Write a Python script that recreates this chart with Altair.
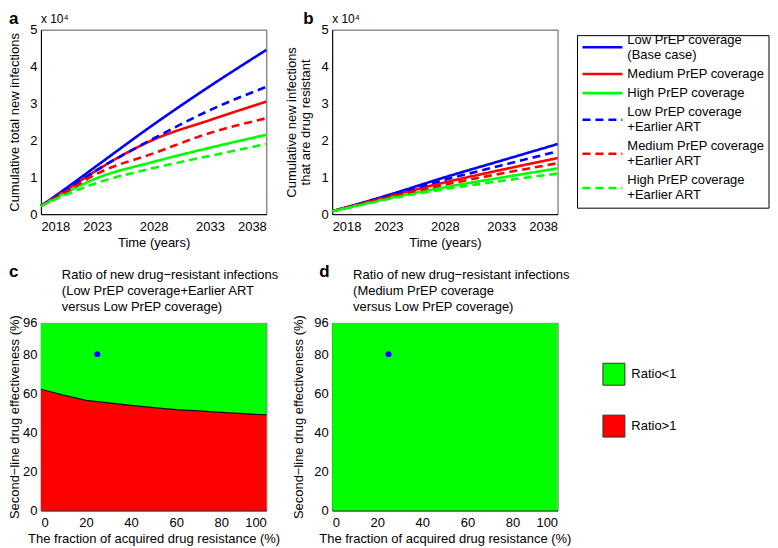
import altair as alt
import pandas as pd

# ---------------- data ----------------
years = [2018, 2020, 2023, 2028, 2033, 2038]
series = [
    "Low PrEP coverage|(Base case)",
    "Medium PrEP coverage",
    "High PrEP coverage",
    "Low PrEP coverage|+Earlier ART",
    "Medium PrEP coverage|+Earlier ART",
    "High PrEP coverage|+Earlier ART",
]
series_colors = ["#0000ff", "#ff0000", "#00ff00", "#0000ff", "#ff0000", "#00ff00"]
series_dash = [[1, 0], [1, 0], [1, 0], [8, 5], [8, 5], [8, 5]]

# cumulative total new infections (x 10^4)
total_low = [0.22, 0.65, 1.32, 2.43, 3.47, 4.45]
total_med = [0.22, 0.60, 1.20, 2.02, 2.55, 3.05]
total_high = [0.22, 0.55, 0.98, 1.42, 1.80, 2.15]
total_low_art = [0.22, 0.60, 1.20, 2.05, 2.82, 3.45]
total_med_art = [0.22, 0.56, 1.10, 1.65, 2.20, 2.60]
total_high_art = [0.22, 0.50, 0.85, 1.25, 1.58, 1.90]

# cumulative drug-resistant new infections (x 10^4)
res_low = [0.08, 0.25, 0.52, 1.00, 1.45, 1.90]
res_med = [0.08, 0.24, 0.48, 0.86, 1.20, 1.52]
res_high = [0.08, 0.22, 0.43, 0.73, 0.99, 1.24]
res_low_art = [0.08, 0.24, 0.50, 0.93, 1.32, 1.70]
res_med_art = [0.08, 0.23, 0.46, 0.80, 1.10, 1.38]
res_high_art = [0.08, 0.21, 0.41, 0.68, 0.90, 1.10]

# ratio boundary (panel c)
frac_resist = [0, 10, 20, 30, 40, 50, 60, 70, 80, 90, 100]
boundary_eff = [62, 59, 56.3, 55, 53.8, 52.6, 51.6, 50.9, 50.2, 49.5, 48.9]
base_point_x = [25]
base_point_y = [80]

regions = ["Ratio<1", "Ratio>1"]
region_colors = ["#00ff00", "#ff0000"]

year_ticks = [2018, 2023, 2028, 2033, 2038]
y_ticks_top = [0, 1, 2, 3, 4, 5]
frac_ticks = [0, 20, 40, 60, 80, 100]
eff_ticks = [0, 20, 40, 60, 80, 96]

title_c = ["Ratio of new drug−resistant infections", "(Low PrEP coverage+Earlier ART",
           "\u00a0versus Low PrEP coverage)"]
title_d = ["Ratio of new drug−resistant infections", "\u00a0(Medium PrEP coverage",
           "\u00a0versus Low PrEP coverage)"]

FONT = "Liberation Sans"
W, H_TOP, H_BOT = 226, 185, 188


def long_frame(cols):
    rows = []
    for s, vals in zip(series, cols):
        for y, v in zip(years, vals):
            rows.append({"year": y, "value": v, "series": s})
    return pd.DataFrame(rows)


df_total = long_frame([total_low, total_med, total_high, total_low_art, total_med_art, total_high_art])
df_res = long_frame([res_low, res_med, res_high, res_low_art, res_med_art, res_high_art])

color_scale = alt.Scale(domain=series, range=series_colors)
dash_scale = alt.Scale(domain=series, range=series_dash)


def letter(ch, dx, dy):
    return alt.Chart(pd.DataFrame({"t": [ch]})).mark_text(
        font=FONT, fontSize=17, fontWeight="bold", align="left", baseline="alphabetic"
    ).encode(text="t:N", x=alt.value(dx), y=alt.value(dy))


def top_text(lines, dx, dy, size):
    return alt.Chart(pd.DataFrame({"t": [0]})).mark_text(
        font=FONT, fontSize=size, align="left", baseline="alphabetic", lineHeight=15.8
    ).encode(text=alt.value(lines), x=alt.value(dx), y=alt.value(dy))


def series_legend():
    # legend drawn as a guide block at the right of panel b
    LH, GAP = 15, 4.2
    sym_rows, txt_rows = [], []
    yc = 17.7
    prev_n = None
    for s in series:
        parts = s.split("|")
        n = len(parts)
        if prev_n is not None:
            yc += LH / 2 * (prev_n + n) + GAP
        sym_rows.append({"series": s, "ypix": yc})
        for i, p in enumerate(parts):
            txt_rows.append({"line": p, "ypix": yc + (i - (n - 1) / 2) * LH})
        prev_n = n
    box = alt.Chart(pd.DataFrame({"t": [0]})).mark_rect(
        fill="white", stroke="black", strokeWidth=1
    ).encode(x=alt.value(246), x2=alt.value(438), y=alt.value(6), y2=alt.value(179))
    syms = alt.Chart(pd.DataFrame(sym_rows)).mark_rule(strokeWidth=2.6).encode(
        x=alt.value(251), x2=alt.value(291),
        y=alt.Y("ypix:Q", scale=None),
        color=alt.Color("series:N", scale=color_scale, legend=None),
        strokeDash=alt.StrokeDash("series:N", scale=dash_scale, legend=None),
    )
    txt = alt.Chart(pd.DataFrame(txt_rows)).mark_text(
        font=FONT, fontSize=13, align="left", baseline="middle", color="black"
    ).encode(x=alt.value(296), y=alt.Y("ypix:Q", scale=None), text="line:N")
    return [box, syms, txt]


def line_panel(df, ytitle, tpad, with_legend, ch, ch_dx):
    lines = alt.Chart(df).mark_line(strokeWidth=2.6, interpolate="monotone").encode(
        x=alt.X("year:Q", scale=alt.Scale(domain=[2018, 2038], nice=False),
                axis=alt.Axis(values=year_ticks, format="d", title="Time (years)")),
        y=alt.Y("value:Q", scale=alt.Scale(domain=[0, 5], nice=False),
                axis=alt.Axis(values=y_ticks_top, format="d", title=ytitle, titlePadding=tpad)),
        color=alt.Color("series:N", scale=color_scale, legend=None),
        strokeDash=alt.StrokeDash("series:N", scale=dash_scale, legend=None),
        order=alt.Order("series:N"),
    )
    layers = [lines, letter(ch, ch_dx, -6), top_text("x 10⁴", 0, -7, 12)]
    if with_legend:
        layers += series_legend()
    return alt.layer(*layers).properties(width=W, height=H_TOP)


def ratio_panel(boundary, title_lines, show_legend, ch, ch_dx, tpad):
    rows = []
    for x, b in zip(frac_resist, boundary):
        rows.append({"frac": x, "lo": 0, "hi": b, "region": "Ratio>1"})
        rows.append({"frac": x, "lo": b, "hi": 96, "region": "Ratio<1"})
    df = pd.DataFrame(rows)
    fill_legend = alt.Legend(
        orient="none", legendX=271, legendY=40, title=None,
        symbolType="square", symbolSize=484, symbolStrokeColor="#333333", symbolStrokeWidth=1,
        symbolOpacity=1, labelFontSize=13, labelFont=FONT, labelOffset=6, rowPadding=25, padding=0,
    ) if show_legend else None
    xscale = alt.Scale(domain=[0, 100], nice=False)
    yscale = alt.Scale(domain=[0, 96], nice=False)
    xaxis = alt.Axis(values=frac_ticks, format="d", labelOverlap=False,
                     title="The fraction of acquired drug resistance (%)")
    yaxis = alt.Axis(values=eff_ticks, format="d", titlePadding=tpad, labelOverlap=False,
                     title="Second−line drug effectiveness (%)")
    area = alt.Chart(df).mark_area(opacity=1, interpolate="linear").encode(
        x=alt.X("frac:Q", scale=xscale, axis=xaxis),
        y=alt.Y("lo:Q", scale=yscale, axis=yaxis),
        y2="hi:Q",
        fill=alt.Fill("region:N", scale=alt.Scale(domain=regions, range=region_colors),
                      legend=fill_legend),
        detail="region:N",
    )
    layers = [area]
    if min(boundary) > 0:
        bdf = pd.DataFrame({"frac": frac_resist, "lo": boundary})
        layers.append(alt.Chart(bdf).mark_line(color="#111111", strokeWidth=1.2).encode(
            x=alt.X("frac:Q", scale=xscale, axis=xaxis),
            y=alt.Y("lo:Q", scale=yscale, axis=yaxis)))
    pdf = pd.DataFrame({"frac": base_point_x, "lo": base_point_y})
    layers.append(alt.Chart(pdf).mark_circle(size=36, color="#0000ff", opacity=1).encode(
        x=alt.X("frac:Q", scale=xscale, axis=xaxis),
        y=alt.Y("lo:Q", scale=yscale, axis=yaxis)))
    layers.append(letter(ch, ch_dx, -46))
    layers.append(top_text(title_lines, 21, -43.5, 13))
    return alt.layer(*layers).properties(width=W, height=H_BOT)


panel_a = line_panel(df_total, "Cumulative total new infections", 8, False, "a", -32)
panel_b = line_panel(df_res, ["Cumulative new infections", "that are drug resistant"], 8, True, "b", -29)
panel_c = ratio_panel(boundary_eff, title_c, False, "c", -32, 1)
panel_d = ratio_panel([0] * len(frac_resist), title_d, True, "d", -13, 8)

chart = alt.concat(
    panel_a, panel_b, panel_c, panel_d, columns=2,
    spacing=alt.RowColnumber(row=109, column=66), bounds="flush",
).resolve_scale(
    color="independent", strokeDash="independent", fill="independent"
).resolve_legend(
    color="independent", strokeDash="independent", fill="independent"
).properties(
    padding={"top": 0, "left": 0, "right": 0, "bottom": 0}
).configure(
    font=FONT, background="white"
).configure_axis(
    labelFontSize=13, titleFontSize=13, titleFontWeight="normal",
    labelColor="black", titleColor="black", domainColor="black", domainWidth=1,
    grid=False, ticks=False, tickSize=0, labelPadding=4, labelOverlap=False,
    labelFont=FONT, titleFont=FONT,
).configure_axisX(
    labelPadding=6, titlePadding=3,
).configure_view(
    stroke="#555555", strokeWidth=1,
)

chart.save("out.html", embed_options={"renderer": "svg", "actions": False})
